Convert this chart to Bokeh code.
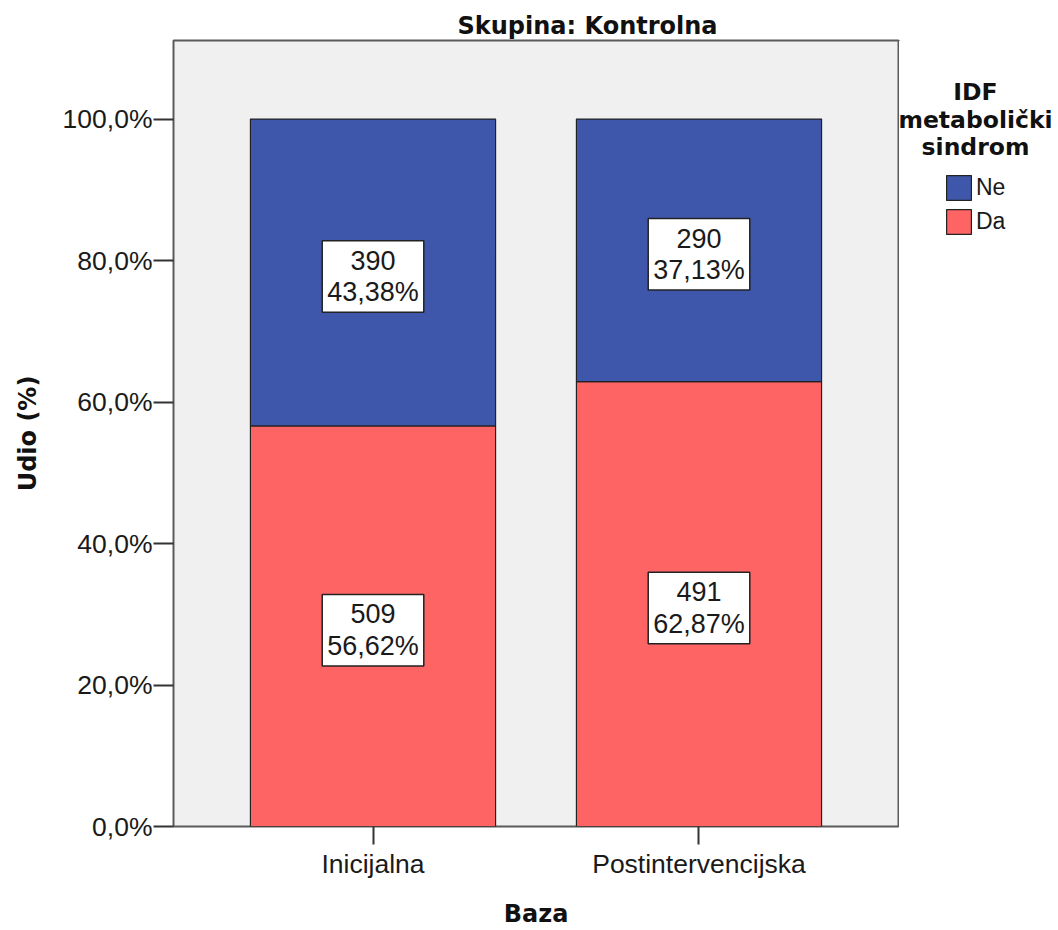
from bokeh.plotting import figure
from bokeh.models import (Range1d, FactorRange, FixedTicker, ColumnDataSource, Label,
                          Legend, LegendItem)
from bokeh.layouts import row
from bokeh.embed import file_html
from bokeh.resources import INLINE

# ---- data ----
categories = ["Inicijalna", "Postintervencijska"]
series_names = ["Ne", "Da"]
da_counts = [509, 491]
ne_counts = [390, 290]
da_pct = [56.62, 62.87]
ne_pct = [43.38, 37.13]
y_ticks = [0, 20, 40, 60, 80, 100]
y_tick_labels = ["0,0%", "20,0%", "40,0%", "60,0%", "80,0%", "100,0%"]
title_text = "Skupina: Kontrolna"
legend_title_lines = ["IDF", "metabolički", "sindrom"]

BLUE = "#3e57ab"
RED = "#ff6464"
EDGE = "#222222"
REG = "Liberation Sans"
BOLD = "DejaVu Sans"

da_top = da_pct
ne_bottom = da_pct
ne_top = [a + b for a, b in zip(da_pct, ne_pct)]

# ---------------- main chart ----------------
p = figure(width=899, height=930, output_backend="svg", toolbar_location=None,
           x_range=FactorRange(*categories, range_padding=0.112,
                               range_padding_units="absolute"),
           y_range=Range1d(0, 111.1),
           min_border_left=173, min_border_right=1, min_border_top=40,
           min_border_bottom=102)
p.background_fill_color = "#f0f0f0"
p.border_fill_color = "white"
p.outline_line_color = "#5a5a5a"
p.outline_line_width = 2
p.xgrid.visible = False
p.ygrid.visible = False

src = ColumnDataSource(dict(x=categories, da_top=da_top, ne_bottom=ne_bottom, ne_top=ne_top))
r_da = p.vbar(x="x", bottom=0, top="da_top", width=0.752, source=src,
              fill_color=RED, line_color=EDGE, line_width=1.2)
r_ne = p.vbar(x="x", bottom="ne_bottom", top="ne_top", width=0.752, source=src,
              fill_color=BLUE, line_color=EDGE, line_width=1.2)

def fmt(c, v):
    return f"{c}\n{v:.2f}%".replace(".", ",")

for i, cat in enumerate(categories):
    for mid, txt in ((da_top[i] / 2, fmt(da_counts[i], da_pct[i])),
                     ((ne_bottom[i] + ne_top[i]) / 2, fmt(ne_counts[i], ne_pct[i]))):
        p.add_layout(Label(x=i + 0.5, y=mid, y_offset=-4, text=txt, text_align="center",
                           text_baseline="middle", text_font=REG,
                           text_font_size="27px", text_color="#1a1a1a",
                           text_line_height=1.05,
                           background_fill_color="white", border_line_color=EDGE,
                           border_line_width=1.5, padding=5))

# axes
p.yaxis.ticker = FixedTicker(ticks=y_ticks)
p.yaxis.major_label_overrides = {t: l for t, l in zip(y_ticks, y_tick_labels)}
for ax in (p.xaxis[0], p.yaxis[0]):
    ax.axis_line_color = None
    ax.minor_tick_line_color = None
    ax.major_tick_in = 0
    ax.major_tick_line_color = "#333333"
    ax.major_tick_line_width = 2
    ax.major_label_text_font = REG
    ax.major_label_text_font_size = "26.5px"
    ax.major_label_text_color = "#1a1a1a"
    ax.axis_label_text_font = BOLD
    ax.axis_label_text_font_style = "bold"
    ax.axis_label_text_font_size = "24px"
    ax.axis_label_text_color = "#111111"
p.yaxis.major_tick_out = 20
p.xaxis.major_tick_out = 18
p.yaxis.major_label_standoff = 1
p.xaxis.major_label_standoff = 4
p.yaxis.axis_label = "Udio (%)"
p.xaxis.axis_label = "Baza"
p.yaxis.axis_label_standoff = 18
p.xaxis.axis_label_standoff = 18

# title
p.title.text = title_text
p.title.align = "left"
p.title.offset = 284
p.title.standoff = 2
p.title.text_font = BOLD
p.title.text_font_style = "bold"
p.title.text_font_size = "24px"
p.title.text_color = "#111111"

# ---------------- legend panel (frame aligned with main frame: 40..828 px) ----------------
lf = figure(width=159, height=930, output_backend="svg", toolbar_location=None,
            x_range=Range1d(899, 1058), y_range=Range1d(828, 40),
            x_axis_location=None, y_axis_location=None,
            min_border=0, min_border_left=0, min_border_right=0,
            min_border_top=40, min_border_bottom=102)
lf.outline_line_color = None
lf.background_fill_color = "white"
lf.border_fill_color = "white"
lf.xgrid.visible = False
lf.ygrid.visible = False

for line, yv in zip(legend_title_lines, [92, 120, 147]):
    lf.add_layout(Label(x=975, y=yv, text=line, text_align="center",
                        text_baseline="alphabetic", text_font=BOLD,
                        text_font_style="bold", text_font_size="23.5px",
                        text_color="#111111"))

# legend proxies (lie outside the visible range of this panel)
proxy = ColumnDataSource(dict(x=[0], top=[0]))
l_ne = lf.vbar(x="x", top="top", width=1, source=proxy,
               fill_color=BLUE, line_color=EDGE, line_width=1.2)
l_da = lf.vbar(x="x", top="top", width=1, source=proxy,
               fill_color=RED, line_color=EDGE, line_width=1.2)

legend = Legend(items=[LegendItem(label=series_names[0], renderers=[l_ne]),
                       LegendItem(label=series_names[1], renderers=[l_da])],
                location=(44, 589), padding=0, margin=0, spacing=3,
                glyph_width=31, glyph_height=31, label_height=31,
                label_standoff=2, label_text_font=REG, label_text_font_size="23px",
                label_text_color="#1a1a1a", border_line_color=None,
                background_fill_alpha=0)
lf.add_layout(legend)

layout = row(p, lf)
open("out.html", "w").write(file_html(layout, INLINE))
